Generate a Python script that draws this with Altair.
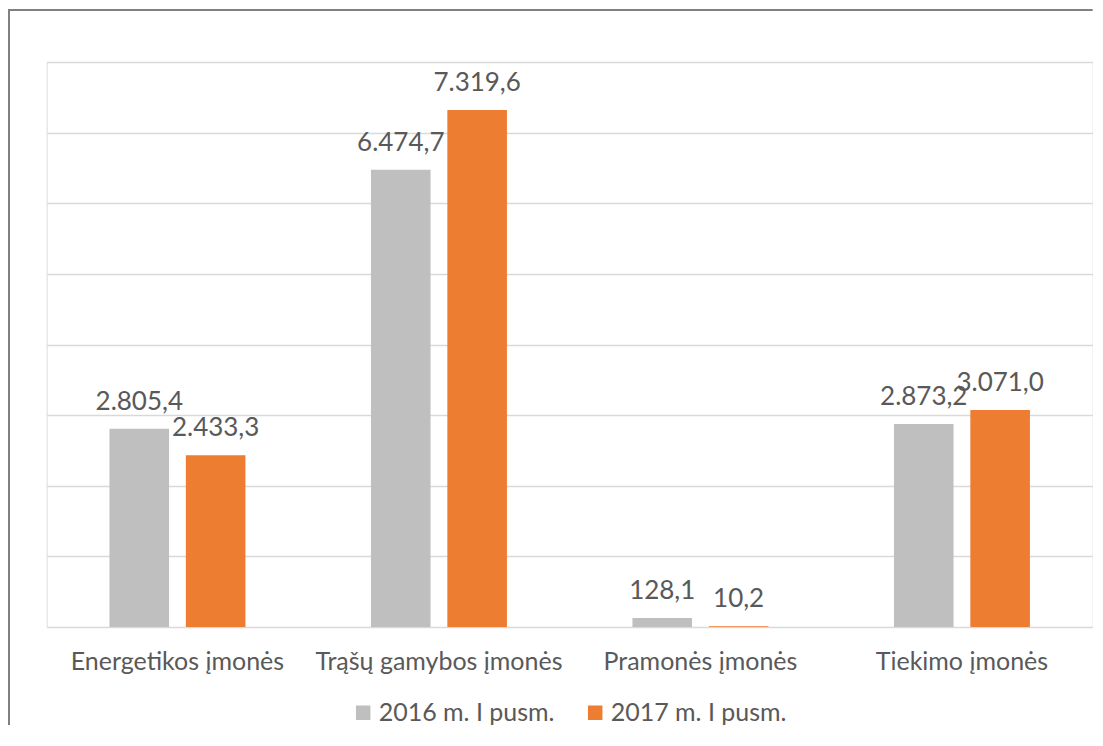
import altair as alt
import pandas as pd

# ---- data ----
categories = ["Energetikos įmonės", "Trąšų gamybos įmonės", "Pramonės įmonės", "Tiekimo įmonės"]
series = ["2016 m. I pusm.", "2017 m. I pusm."]
values_2016 = [2805.4, 6474.7, 128.1, 2873.2]
values_2017 = [2433.3, 7319.6, 10.2, 3071.0]
y_ticks = [0, 1000, 2000, 3000, 4000, 5000, 6000, 7000, 8000]
title_text = "2016 m. I pusm./ 2017 m. I pusm."
series_colors = ["#BFBFBF", "#ED7D31"]


def lt_format(v):
    s = f"{v:,.1f}"
    return s.replace(",", "X").replace(".", ",").replace("X", ".")


rows = []
for c, a, b in zip(categories, values_2016, values_2017):
    rows.append(dict(cat=c, ser=series[0], val=a, lbl=lt_format(a)))
    rows.append(dict(cat=c, ser=series[1], val=b, lbl=lt_format(b)))
df = pd.DataFrame(rows)

FONT = "Lato"
TXT = "#595959"
W, H = 1046, 565
PAD = {"left": 38.7, "top": 54, "right": 0, "bottom": 98}

x_enc = alt.X(
    "cat:N", sort=categories, title=None,
    scale=alt.Scale(paddingInner=0.48, paddingOuter=0.24),
    axis=alt.Axis(labelFont=FONT, labelFontSize=25, labelColor=TXT, ticks=False, tickSize=0,
                  domain=False, labelPadding=43, labelBaseline="alphabetic", labelAngle=0,
                  grid=False, labelLimit=0),
)
xoff = alt.XOffset("ser:N", sort=series, scale=alt.Scale(paddingInner=0.22, paddingOuter=0))
y_enc = alt.Y(
    "val:Q", scale=alt.Scale(domain=[0, 8000], nice=False), title=None,
    axis=alt.Axis(values=y_ticks, labels=False, ticks=False, domain=False, grid=True,
                  gridColor="#D9D9D9", gridWidth=1.3),
)
color = alt.Color(
    "ser:N", sort=series,
    scale=alt.Scale(domain=series, range=series_colors),
    legend=alt.Legend(title=None, orient="none", legendX=304, legendY=638, direction="horizontal",
                      symbolType="square", symbolSize=210, symbolStrokeWidth=0, symbolOpacity=1,
                      labelFont=FONT, labelFontSize=25, labelColor=TXT, labelOffset=3,
                      columnPadding=28, padding=0, labelLimit=0),
)

base = alt.Chart(df).encode(x=x_enc, xOffset=xoff, y=y_enc)
bars = base.mark_bar().encode(color=color)
labels = base.mark_text(dy=-19, font=FONT, fontSize=26, color=TXT, baseline="alphabetic").encode(text="lbl:N")

edge_df = pd.DataFrame({"k": [0]})
left_edge = alt.Chart(edge_df).mark_rule(stroke="#808080", strokeWidth=2).encode(
    x=alt.value(-37.7), y=alt.value(-53), y2=alt.value(H + PAD["bottom"])
)
top_edge = alt.Chart(edge_df).mark_rule(stroke="#808080", strokeWidth=2).encode(
    x=alt.value(-38.7), x2=alt.value(W + PAD["right"]), y=alt.value(-52)
)

chart = alt.layer(left_edge, top_edge, bars, labels).properties(
    width=W, height=H,
    padding=PAD,
    autosize=alt.AutoSizeParams(type="none"),
    title=alt.TitleParams(title_text, anchor="start", font=FONT, fontSize=24, fontWeight="normal",
                          color="#000000", baseline="alphabetic", offset=0, dy=-60, dx=-37),
).configure_view(stroke=None).configure(background="white")

chart.save("out.html", embed_options={"renderer": "svg", "actions": False})
